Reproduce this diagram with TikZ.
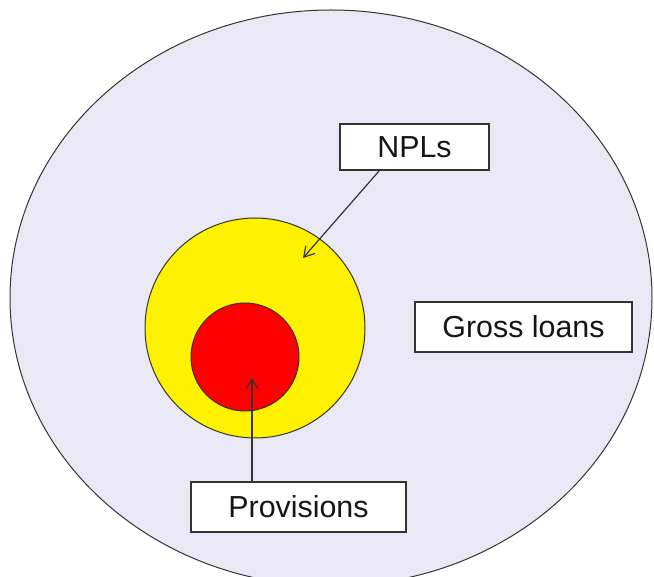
\documentclass[tikz,border=0pt]{standalone}
\usepackage{fontspec}
\setmainfont{Liberation Sans}
\usetikzlibrary{positioning,arrows.meta,shapes.geometric}
\definecolor{loanbg}{HTML}{EAE8F4}
\definecolor{edge}{HTML}{333333}
\definecolor{ink}{HTML}{151515}

\tikzset{
  labelbox/.style={draw=edge,line width=0.75pt,fill=white,text=ink,
    font=\fontsize{15.2}{18}\selectfont,inner sep=2pt},
  pointer/.style={-{Straight Barb[length=5pt,width=6pt]},draw=edge,line width=0.6pt}
}

\begin{document}
\begin{tikzpicture}[x=0.5pt,y=-0.5pt]
    \useasboundingbox (0,0) rectangle (654,577);
    \fill[white] (0,0) rectangle (654,577);
    \clip (0,0) rectangle (654,577);
    % gross loans, NPLs, provisions
    \filldraw[fill=loanbg,draw=edge,line width=0.5pt] (331,298) ellipse [x radius=321, y radius=288];
    \filldraw[fill=yellow,draw=edge,line width=0.5pt] (255,328) circle [radius=110];
    \filldraw[fill=red,draw=edge,line width=0.5pt] (245,357) circle [radius=54];
    \node[labelbox,minimum width=74.5pt,minimum height=23pt] (npl) at (414.5,147) {NPLs};
    \node[labelbox,minimum width=108.5pt,minimum height=25pt] (gross) at (523.5,327) {Gross loans};
    \node[labelbox,minimum width=107.5pt,minimum height=25pt] (prov) at (298.5,507) {Provisions};
    \coordinate (npltip) at (303,258);
    \coordinate (provtip) at (252,378);
    \draw[pointer] ([xshift=20pt]npl.south west) -- (npltip);
    \draw[pointer] (prov.north -| provtip) -- (provtip);
  \end{tikzpicture}
\end{document}
